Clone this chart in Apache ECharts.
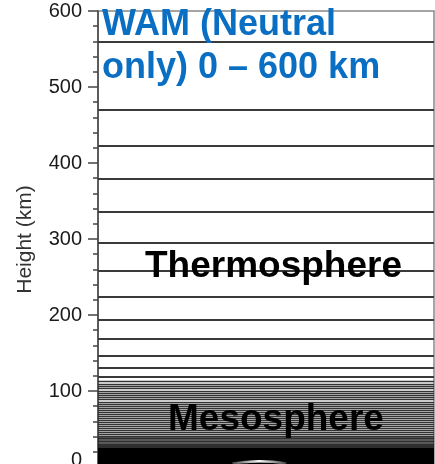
<!DOCTYPE html>
<html>
<head>
<meta charset="utf-8">
<script src="https://cdn.jsdelivr.net/npm/echarts@6/dist/echarts.min.js"></script>
<style>
  html, body { margin: 0; padding: 0; background: #fff; }
  #chart { width: 435px; height: 464px; }
</style>
</head>
<body>
<div id="chart"></div>
<script>
// model level heights (km)
var upperLevels = [559, 470, 422.5, 379, 335.5, 295, 258, 224, 193.5, 168.5, 146, 130.5, 118.5];
var lowerLevels = [113, 109.5, 106.3, 103.2, 100.2, 97.3, 94.4, 91.5, 88.6, 85.8, 83, 80.2, 77.4, 74.6,
  71.9, 69.2, 66.5, 63.8, 61.1, 58.5, 55.9, 53.3, 50.8, 48.3, 45.8, 43.4, 41, 38.8, 36.7, 34.7, 32.8,
  31, 29.3, 27.7, 26.2, 24.8, 23.5, 22.3, 21.2, 20.1, 19.1, 18.1, 17.1, 16.2, 15.3, 14.4, 13.5, 12.7,
  11.9, 11.1, 10.3, 9.6, 8.9, 8.2, 7.5, 6.8, 6.2, 5.6, 5, 4.4, 3.8, 3.3, 2.8, 2.3, 1.8, 1.4, 1, 0.6, 0.3, 0];
// little bump near the ground (x in 0..100 across the panel, height km)
var terrainX = [40, 44, 48, 52, 56];
var terrainH = [4.5, 6.6, 7.6, 6.8, 4.5];
var yTicks = [0, 600, 100];

var chart = echarts.init(document.getElementById('chart'));

var levelLines = [];
for (var i = 0; i < upperLevels.length; i++) {
  levelLines.push({ yAxis: upperLevels[i], lineStyle: { color: '#3a3a3a', width: 2 } });
}
for (var j = 0; j < lowerLevels.length; j++) {
  var h = lowerLevels[j];
  var st = h > 40 ? { color: '#333', width: 1.35 } : (h > 24 ? { color: '#222', width: 1.6 } : { color: '#000', width: 2 });
  levelLines.push({ yAxis: h, lineStyle: st });
}

var terrain = [];
for (var k = 0; k < terrainX.length; k++) terrain.push([terrainX[k], terrainH[k]]);

var option = {
  animation: false,
  grid: {
    left: 98, right: 1, top: 11, bottom: -3,
    containLabel: false,
    outerBoundsMode: 'none',
    show: true,
    borderColor: '#888',
    borderWidth: 1.5,
    backgroundColor: '#fff'
  },
  xAxis: {
    type: 'value', min: 0, max: 100, show: false
  },
  yAxis: {
    type: 'value',
    min: yTicks[0], max: yTicks[1], interval: yTicks[2],
    splitLine: { show: false },
    axisLine: { show: true, lineStyle: { color: '#444', width: 1.5 } },
    axisTick: { show: true, length: 10, lineStyle: { color: '#444', width: 1.5 } },
    minorTick: { show: true, splitNumber: 5, length: 5, lineStyle: { color: '#444', width: 1.5 } },
    axisLabel: {
      color: '#1a1a1a', fontSize: 20, fontFamily: 'Liberation Sans, Arial', margin: 16,
      formatter: function (v) { return v === 0 ? '{z|0}' : String(v); },
      rich: { z: { color: '#1a1a1a', fontSize: 20, fontFamily: 'Liberation Sans, Arial', padding: [0, 0, 14, 0] } }
    }
  },
  series: [
    {
      name: 'levels',
      type: 'line',
      data: [],
      z: 1,
      silent: true,
      markLine: {
        silent: true,
        z: 2,
        symbol: ['none', 'none'],
        label: { show: false },
        lineStyle: { color: '#333', width: 1.5, type: 'solid' },
        emphasis: { disabled: true },
        data: levelLines
      }
    },
    {
      name: 'terrain',
      type: 'line',
      data: terrain,
      z: 8,
      smooth: true,
      symbol: 'none',
      silent: true,
      lineStyle: {
        width: 2.5,
        color: new echarts.graphic.LinearGradient(0, 0, 1, 0, [
          { offset: 0, color: '#333' },
          { offset: 0.5, color: '#ffffff' },
          { offset: 1, color: '#333' }
        ])
      }
    }
  ],
  graphic: [
    {
      type: 'text', x: 102, y: 25, z: 10,
      style: { text: 'WAM (Neutral', fill: '#0a6fc2', font: 'bold 36px "Liberation Sans", Arial', verticalAlign: 'middle' }
    },
    {
      type: 'text', x: 102, y: 68, z: 10,
      style: { text: 'only) 0 \u2013 600 km', fill: '#0a6fc2', font: 'bold 36px "Liberation Sans", Arial', verticalAlign: 'middle' }
    },
    {
      type: 'text', x: 145, y: 267, z: 10,
      style: { text: 'Thermosphere', fill: '#000', font: 'bold 37px "Liberation Sans", Arial', verticalAlign: 'middle' }
    },
    {
      type: 'text', x: 168, y: 420, z: 10,
      style: { text: 'Mesosphere', fill: '#000', font: 'bold 37px "Liberation Sans", Arial', verticalAlign: 'middle' }
    },
    {
      type: 'text', x: 25, y: 239.5, rotation: Math.PI / 2, z: 10,
      style: { text: 'Height (km)', fill: '#333', font: '21px "Liberation Sans", Arial', align: 'center', verticalAlign: 'middle' }
    }
  ]
};

chart.setOption(option);
</script>
</body>
</html>
